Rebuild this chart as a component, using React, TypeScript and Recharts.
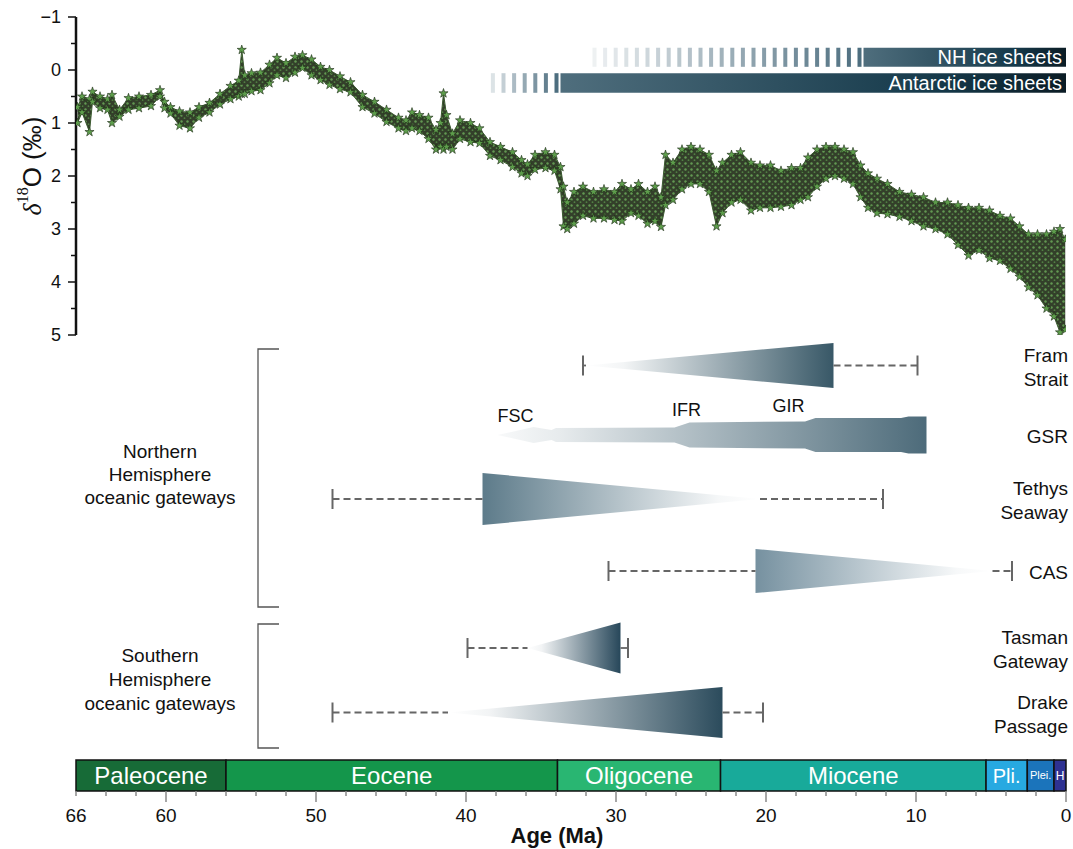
import React from 'react'
import { ComposedChart, Area, Line, Scatter, XAxis, YAxis, ZAxis, ReferenceArea } from 'recharts'

const FONT = '"Liberation Sans", Arial, Helvetica, sans-serif'

// benthic d18O envelope: age (Ma), lightest and heaviest value per step (permil)
const isoAge = [
    65.9, 65.6, 65.1, 64.9, 64.4, 63.9, 63.6, 63.1, 62.5, 61.8, 61.0, 60.4, 60.1, 59.7, 59.1, 58.4, 57.8,
    57.1, 56.4, 55.7, 55.15, 54.95, 54.75, 54.3, 53.7, 53.1, 52.6, 52.0, 51.4, 50.9, 50.3, 49.7, 49.1,
    48.4, 47.7, 46.9, 46.1, 45.3, 44.5, 44.0, 43.6, 43.1, 42.5, 42.0, 41.7, 41.5, 41.3, 40.9, 40.4, 39.7, 39.1,
    38.4, 37.7, 36.9, 36.3, 35.9, 35.4, 34.7, 34.1, 33.7, 33.5, 33.25, 32.8, 32.2, 31.5, 30.8, 30.1, 29.6,
    29.0, 28.5, 27.9, 27.4, 27.0, 26.7, 26.2, 25.6, 25.0, 24.4, 23.8, 23.3, 22.9, 22.3, 21.7, 21.0, 20.4,
    19.7, 19.0, 18.3, 17.7, 17.2, 16.6, 16.0, 15.4, 14.8, 14.2, 13.7, 13.2, 12.6, 11.9, 11.1, 10.3, 9.5,
    8.7, 7.9, 7.2, 6.5, 5.8, 5.1, 4.4, 3.7, 3.1, 2.5, 1.9, 1.3, 0.8, 0.4, 0.05,
]
const isoMin = [
    0.7, 0.5, 0.55, 0.41, 0.5, 0.55, 0.47, 0.75, 0.53, 0.5, 0.47, 0.38, 0.6, 0.7, 0.78, 0.8, 0.7,
    0.62, 0.45, 0.3, 0.2, -0.38, 0.1, 0.06, 0.05, -0.1, -0.23, -0.13, -0.25, -0.28, -0.2, -0.06, 0.0,
    0.12, 0.23, 0.47, 0.6, 0.75, 0.9, 0.95, 0.8, 0.85, 0.9, 1.13, 1.0, 0.44, 0.85, 1.2, 0.95, 1.0, 1.1,
    1.36, 1.45, 1.55, 1.7, 1.78, 1.6, 1.55, 1.6, 1.83, 2.2, 2.5, 2.3, 2.2, 2.3, 2.25, 2.3, 2.15,
    2.25, 2.15, 2.3, 2.2, 2.4, 1.6, 1.75, 1.5, 1.45, 1.5, 1.6, 1.9, 1.75, 1.6, 1.55, 1.75, 1.8,
    1.8, 1.9, 1.85, 1.85, 1.65, 1.5, 1.45, 1.45, 1.5, 1.55, 1.8, 1.95, 2.05, 2.15, 2.3, 2.35, 2.4,
    2.5, 2.5, 2.55, 2.6, 2.6, 2.65, 2.75, 2.8, 2.95, 3.1, 3.1, 3.1, 3.05, 3.0, 3.2,
]
const isoMax = [
    1.0, 0.8, 1.17, 0.6, 0.72, 0.75, 1.0, 0.88, 0.75, 0.72, 0.68, 0.5, 0.72, 0.82, 1.05, 1.1, 0.9,
    0.8, 0.65, 0.55, 0.5, 0.45, 0.45, 0.4, 0.38, 0.25, 0.1, 0.15, 0.05, -0.04, 0.1, 0.19, 0.28,
    0.36, 0.42, 0.7, 0.82, 0.98, 1.1, 1.15, 1.1, 1.15, 1.3, 1.5, 1.45, 1.5, 1.45, 1.5, 1.3, 1.36, 1.38,
    1.62, 1.7, 1.83, 1.95, 2.0, 1.88, 1.85, 1.9, 2.25, 2.95, 3.0, 2.9, 2.75, 2.8, 2.8, 2.83, 2.85,
    2.7, 2.75, 2.9, 2.85, 2.96, 2.55, 2.45, 2.25, 2.15, 2.15, 2.3, 2.95, 2.7, 2.5, 2.45, 2.65, 2.6,
    2.6, 2.58, 2.55, 2.45, 2.4, 2.2, 2.05, 2.0, 2.05, 2.15, 2.4, 2.6, 2.7, 2.72, 2.77, 2.85, 2.95,
    3.0, 3.1, 3.3, 3.5, 3.4, 3.55, 3.6, 3.75, 3.9, 4.1, 4.25, 4.5, 4.65, 4.95, 4.9,
]
const deltaTicks = [-1, -0.5, 0, 0.5, 1, 1.5, 2, 2.5, 3, 3.5, 4, 4.5, 5]

// ice sheets: hatched (ephemeral) part starts at iceEphemeralFrom, full ice sheet from iceFullFrom
const iceSheets = ['NH ice sheets', 'Antarctic ice sheets']
const iceEphemeralFrom = [32.2, 39.3]
const iceFullFrom = [13.5, 33.7]

// oceanic gateways (ages in Ma)
const gatewayNames = ['Fram Strait', 'GSR', 'Tethys Seaway', 'CAS', 'Tasman Gateway', 'Drake Passage']
const wedgeTip = [32.0, 37.9, 20.4, 4.9, 35.9, 41.2]
const wedgeWide = [15.5, 9.3, 38.9, 20.7, 29.7, 22.9]
const rangeOld = [32.2, null, 48.9, 30.5, 39.9, 48.9]
const rangeYoung = [9.9, null, 12.2, 3.6, 29.2, 20.2]

// Greenland-Scotland Ridge deepening steps
const gsrAge = [37.9, 35.5, 34.3, 34.0, 26.1, 25.1, 17.4, 16.7, 11.0, 10.5, 9.3]
const gsrHalf = [0, 8, 5, 7, 7.5, 12.5, 13.5, 17, 17, 18.5, 18.5]
const gsrLabels = ['FSC', 'IFR', 'GIR']
const gsrLabelAge = [36.7, 25.3, 18.5]

const epochNames = ['Paleocene', 'Eocene', 'Oligocene', 'Miocene', 'Pli.', 'Plei.', 'H']
const epochStart = [66, 56, 33.9, 23.03, 5.33, 2.58, 0.8]
const epochEnd = [56, 33.9, 23.03, 5.33, 2.58, 0.8, 0]
const ageTicks = [66, 64, 62, 60, 58, 56, 54, 52, 50, 48, 46, 44, 42, 40, 38, 36, 34, 32, 30, 28, 26, 24, 22, 20, 18, 16, 14, 12, 10, 8, 6, 4, 2, 0]

// layout / styling
const EPOCH_FILL = ['#176b37', '#14964b', '#29b672', '#18aa9a', '#27a9e1', '#1b74bb', '#2e3192']
const EPOCH_FONT = [24, 24, 24, 24, 20, 11, 12]
const ICE_ROWS = [[-0.42, -0.06], [0.06, 0.43]]
// bottom panel track units = px below panel top
const ROW_Y = [25.5, 95, 159, 231, 308, 372.5]
const ROW_HALF = [22.5, 0, 26, 22, 25.5, 25.5]
const WEDGE_COLOR = ['#385867', '#4d6b7a', '#5d7b8a', '#7691a0', '#27475a', '#2b4b5c']
const GSR_LABEL_Y = [76, 70, 66]
const EPOCH_TRACK = [420, 451]

const DeltaTick = ({ x, y, payload }: any) => {
    const v = payload.value
    const major = Number.isInteger(v)
    return (
        <g>
            <line x1={x - (major ? 8 : 5)} x2={x} y1={y} y2={y} stroke="#111" strokeWidth={1.5} />
            {major && (
                <text x={x - 15} y={y} textAnchor="end" dominantBaseline="central" fontSize={18} fill="#111">
                    {v < 0 ? `\u2212${-v}` : v}
                </text>
            )}
        </g>
    )
}

const DeltaLabel = ({ viewBox }: any) => {
    const cx = viewBox.x + 16
    const cy = viewBox.y + viewBox.height / 2 - 10
    return (
        <text transform={`translate(${cx},${cy}) rotate(-90)`} textAnchor="middle" dominantBaseline="central" fontSize={26} fill="#111">
            <tspan fontFamily="'Liberation Serif', serif" fontStyle="italic">δ</tspan>
            <tspan fontFamily="'Liberation Serif', serif" fontSize={16} dy={-10}>18</tspan>
            <tspan dy={10}>O (‰)</tspan>
        </text>
    )
}

const AgeTick = ({ x, y, payload }: any) => {
    const v = payload.value
    const major = v % 10 === 0
    return (
        <g>
            <line x1={x} x2={x} y1={y} y2={y + (major ? 11 : 5)} stroke="#8a8a8a" strokeWidth={1.5} />
            {(major || v === 66) && (
                <text x={x} y={y + 31} textAnchor="middle" fontSize={19} fill="#111">{v}</text>
            )}
        </g>
    )
}

const GatewayTick = ({ x, y, payload }: any) => {
    const idx = ROW_Y.indexOf(payload.value)
    const words = gatewayNames[idx].split(' ')
    return (
        <text x={x + 2} y={y + 2} textAnchor="end" fontSize={19} fill="#111">
            {words.map((w, k) => (
                <tspan key={w} x={x + 2} dy={k === 0 ? (words.length - 1) * -12 + 6 : 24}>{w}</tspan>
            ))}
        </text>
    )
}

// hatched lead-in of the ice sheet bars, fading in towards the full bar
const Stripes = ({ x, y, width, height }: any) => {
    const period = 10.6
    const n = Math.max(1, Math.floor(width / period))
    return (
        <g>
            {Array.from({ length: n }, (_, i) => (
                <rect
                    key={i}
                    x={x + width - 6 - (n - 1 - i) * period}
                    y={y}
                    width={4}
                    height={height}
                    fill="#46687a"
                    fillOpacity={0.06 + 0.9 * ((i + 1) / n)}
                />
            ))}
        </g>
    )
}

const Whisker = ({ cx, cy }: any) => (
    <line x1={cx} x2={cx} y1={cy - 10} y2={cy + 10} stroke="#666" strokeWidth={2} />
)

const GsrText = ({ cx, cy, payload }: any) => (
    <text x={cx} y={cy} textAnchor="middle" dominantBaseline="central" fontSize={18} fill="#111">{payload.name}</text>
)

export default function App() {
    const isoRows = isoAge.map((age, i) => ({ age, band: [isoMin[i], isoMax[i]] }))
    const isoStars = isoAge.flatMap((age, i) => [{ age, v: isoMin[i] }, { age, v: isoMax[i] }])

    const gsrData = gsrAge.map((age, i) => ({ age, r: [ROW_Y[1] - gsrHalf[i], ROW_Y[1] + gsrHalf[i]] }))
    const gsrLabelPts = gsrLabels.map((name, i) => ({ age: gsrLabelAge[i], y: GSR_LABEL_Y[i], name }))

    const dashes: { key: string; data: { age: number; y: number }[] }[] = []
    const whiskers: { age: number; y: number }[] = []
    gatewayNames.forEach((g, i) => {
        const old = rangeOld[i]
        const young = rangeYoung[i]
        if (old == null || young == null) return
        const c = ROW_Y[i]
        const older = Math.max(wedgeTip[i], wedgeWide[i])
        const younger = Math.min(wedgeTip[i], wedgeWide[i])
        dashes.push({ key: g + '-old', data: [{ age: old, y: c }, { age: older, y: c }] })
        dashes.push({ key: g + '-young', data: [{ age: younger, y: c }, { age: young, y: c }] })
        whiskers.push({ age: old, y: c }, { age: young, y: c })
    })

    return (
        <div style={{ position: 'absolute', left: 0, top: 0, width: 1073, height: 849, fontFamily: FONT, background: '#fff' }}>
            <div style={{ position: 'absolute', left: 0, top: 0 }}>
                <ComposedChart width={1073} height={345} data={isoRows} margin={{ top: 17, right: 7, bottom: 10, left: 16 }}>
                    <defs>
                        <linearGradient id="iceGrad" x1="0" y1="0" x2="1" y2="0">
                            <stop offset="0" stopColor="#4f6e7d" />
                            <stop offset="0.75" stopColor="#15394a" />
                            <stop offset="1" stopColor="#0b1c25" />
                        </linearGradient>
                        <pattern id="cloud" width="6" height="6" patternUnits="userSpaceOnUse">
                            <rect width="6" height="6" fill="#28351f" />
                            <circle cx="1.5" cy="1.5" r="1.2" fill="#5b9449" />
                            <circle cx="4.5" cy="4.2" r="0.9" fill="#487a39" />
                        </pattern>
                    </defs>
                    <XAxis dataKey="age" type="number" domain={[0, 66]} reversed hide allowDataOverflow />
                    <YAxis
                        type="number"
                        domain={[-1, 5]}
                        reversed
                        allowDataOverflow
                        ticks={deltaTicks}
                        interval={0}
                        width={60}
                        axisLine={{ stroke: '#111', strokeWidth: 2.5 }}
                        tickLine={false}
                        tickSize={0}
                        tickMargin={0}
                        tick={<DeltaTick />}
                        label={<DeltaLabel />}
                    />
                    <ZAxis range={[26, 26]} />
                    <Area
                        dataKey="band"
                        type="linear"
                        fill="url(#cloud)"
                        fillOpacity={0.95}
                        stroke="#3c5a31"
                        strokeWidth={1}
                        dot={false}
                        activeDot={false}
                        isAnimationActive={false}
                    />
                    <Scatter
                        data={isoStars}
                        dataKey="v"
                        shape="star"
                        fill="#5e9e4c"
                        stroke="#1c2a16"
                        strokeWidth={0.6}
                        isAnimationActive={false}
                    />
                    {iceSheets.map((name, i) => (
                        <ReferenceArea
                            key={name + '-hatch'}
                            x1={iceEphemeralFrom[i]}
                            x2={iceFullFrom[i]}
                            y1={ICE_ROWS[i][0]}
                            y2={ICE_ROWS[i][1]}
                            shape={(p: any) => <Stripes {...p} />}
                        />
                    ))}
                    {iceSheets.map((name, i) => (
                        <ReferenceArea
                            key={name}
                            x1={iceFullFrom[i]}
                            x2={0}
                            y1={ICE_ROWS[i][0]}
                            y2={ICE_ROWS[i][1]}
                            fill="url(#iceGrad)"
                            fillOpacity={1}
                            label={{ value: name, position: 'insideRight', fill: '#fff', fontSize: 20, offset: 4 }}
                        />
                    ))}
                </ComposedChart>
            </div>

            <div style={{ position: 'absolute', left: 0, top: 340 }}>
                <ComposedChart width={1073} height={509} margin={{ top: 0, right: 6, bottom: 0, left: 76 }}>
                    <defs>
                        {gatewayNames.map((g, i) => {
                            const tipLeft = wedgeTip[i] > wedgeWide[i]
                            const isGsr = g === 'GSR'
                            return (
                                <linearGradient key={g} id={`wedge${i}`} x1="0" y1="0" x2="1" y2="0">
                                    <stop offset="0" stopColor={WEDGE_COLOR[i]} stopOpacity={tipLeft ? (isGsr ? 0.04 : 0) : 1} />
                                    <stop offset={tipLeft ? 0.15 : 0.85} stopColor={WEDGE_COLOR[i]} stopOpacity={isGsr ? 0.14 : 0.06} />
                                    <stop offset="1" stopColor={WEDGE_COLOR[i]} stopOpacity={tipLeft ? 1 : 0} />
                                </linearGradient>
                            )
                        })}
                    </defs>
                    <XAxis
                        dataKey="age"
                        type="number"
                        domain={[0, 66]}
                        reversed
                        allowDataOverflow
                        ticks={ageTicks}
                        interval={0}
                        height={58}
                        axisLine={false}
                        tickLine={false}
                        tickSize={0}
                        tickMargin={0}
                        tick={<AgeTick />}
                        label={{
                            content: ({ viewBox }: any) => (
                                <text x={viewBox.x + viewBox.width / 2 - 14} y={viewBox.y + 52} textAnchor="middle" fontSize={22} fontWeight="bold" fill="#111">
                                    Age (Ma)
                                </text>
                            ),
                        }}
                    />
                    <YAxis
                        orientation="right"
                        type="number"
                        domain={[0, 451]}
                        reversed
                        allowDataOverflow
                        ticks={ROW_Y}
                        interval={0}
                        width={1}
                        axisLine={false}
                        tickLine={false}
                        tickSize={0}
                        tickMargin={0}
                        tick={<GatewayTick />}
                    />
                    {dashes.map(d => (
                        <Line
                            key={d.key}
                            data={d.data}
                            dataKey="y"
                            stroke="#666"
                            strokeWidth={1.8}
                            strokeDasharray="7 4"
                            dot={false}
                            activeDot={false}
                            isAnimationActive={false}
                        />
                    ))}
                    {gatewayNames.map((g, i) => {
                        if (g === 'GSR') return null
                        const c = ROW_Y[i]
                        const h = ROW_HALF[i]
                        const data = [
                            { age: wedgeTip[i], r: [c, c] },
                            { age: wedgeWide[i], r: [c - h, c + h] },
                        ]
                        return (
                            <Area
                                key={g}
                                data={data}
                                dataKey="r"
                                type="linear"
                                stroke="none"
                                fill={`url(#wedge${i})`}
                                fillOpacity={1}
                                dot={false}
                                activeDot={false}
                                isAnimationActive={false}
                            />
                        )
                    })}
                    <Area
                        data={gsrData}
                        dataKey="r"
                        type="linear"
                        stroke="none"
                        fill="url(#wedge1)"
                        fillOpacity={1}
                        dot={false}
                        activeDot={false}
                        isAnimationActive={false}
                    />
                    <Scatter data={whiskers} dataKey="y" shape={(p: any) => <Whisker {...p} />} isAnimationActive={false} />
                    <Scatter data={gsrLabelPts} dataKey="y" shape={(p: any) => <GsrText {...p} />} isAnimationActive={false} />
                    {epochNames.map((n, i) => (
                        <ReferenceArea
                            key={n}
                            x1={epochStart[i]}
                            x2={epochEnd[i]}
                            y1={EPOCH_TRACK[0]}
                            y2={EPOCH_TRACK[1]}
                            fill={EPOCH_FILL[i]}
                            fillOpacity={1}
                            stroke="#111"
                            strokeWidth={1.5}
                            ifOverflow="visible"
                            label={{ value: n, position: 'center', fill: '#fff', fontSize: EPOCH_FONT[i] }}
                        />
                    ))}
                </ComposedChart>
            </div>

            <svg width={1073} height={849} style={{ position: 'absolute', left: 0, top: 0, pointerEvents: 'none' }}>
                <path d="M279,349 H258 V607 H279" fill="none" stroke="#555" strokeWidth={1.3} />
                <path d="M279,624 H258 V748 H279" fill="none" stroke="#555" strokeWidth={1.3} />
                <text x={160} textAnchor="middle" fontSize={19} fill="#111" fontFamily={FONT}>
                    <tspan x={160} y={458}>Northern</tspan>
                    <tspan x={160} y={481}>Hemisphere</tspan>
                    <tspan x={160} y={504}>oceanic gateways</tspan>
                </text>
                <text x={160} textAnchor="middle" fontSize={19} fill="#111" fontFamily={FONT}>
                    <tspan x={160} y={662}>Southern</tspan>
                    <tspan x={160} y={686}>Hemisphere</tspan>
                    <tspan x={160} y={710}>oceanic gateways</tspan>
                </text>
            </svg>
        </div>
    )
}
